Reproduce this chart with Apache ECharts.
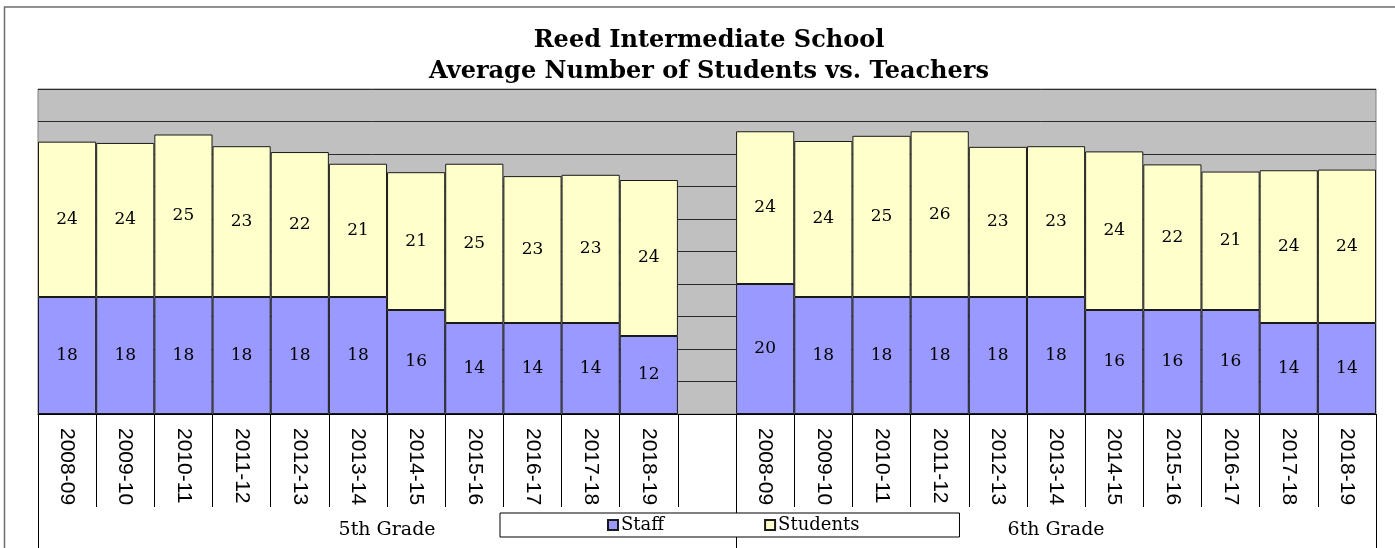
<!DOCTYPE html>
<html>
<head>
<meta charset="utf-8">
<script src="https://cdn.jsdelivr.net/npm/echarts@6/dist/echarts.min.js"></script>
<style>
  html, body { margin: 0; padding: 0; background: #fff; }
  #main { width: 1395px; height: 548px; }
</style>
</head>
<body>
<div id="main"></div>
<script>
// school years, same for both grades
const years = ['2008-09', '2009-10', '2010-11', '2011-12', '2012-13', '2013-14',
  '2014-15', '2015-16', '2016-17', '2017-18', '2018-19'];
const grades = ['5th Grade', '6th Grade'];

const staff5 = [18, 18, 18, 18, 18, 18, 16, 14, 14, 14, 12];
const students5 = [23.9, 23.7, 25.0, 23.2, 22.3, 20.5, 21.2, 24.5, 22.6, 22.8, 24.0];
const staff6 = [20, 18, 18, 18, 18, 18, 16, 16, 16, 14, 14];
const students6 = [23.5, 24.0, 24.8, 25.5, 23.1, 23.2, 24.4, 22.4, 21.3, 23.5, 23.6];

// one empty slot between the two grades
const categories = years.concat([''], years);
const staff = staff5.concat(['-'], staff6);
const students = students5.concat(['-'], students6);

const serif = 'DejaVu Serif';

let myChart = echarts.init(document.getElementById('main'));

const labelOpt = {
  show: true,
  position: 'inside',
  color: '#000',
  fontFamily: serif,
  fontSize: 17,
  formatter: p => Math.round(p.value)
};

// boundaries of every category slot, for the separator ticks
const slotEdges = [];
for (let i = 0; i <= categories.length; i++) slotEdges.push(i);

let options = {
  animation: false,
  backgroundColor: '#fff',
  title: {
    text: 'Reed Intermediate School\nAverage Number of Students vs. Teachers',
    left: 704,
    top: 20,
    textAlign: 'center',
    textStyle: {
      fontFamily: serif,
      fontWeight: 'bold',
      fontSize: 24,
      lineHeight: 31,
      color: '#000'
    }
  },
  legend: {
    data: ['Staff', 'Students'],
    icon: 'rect',
    left: 500,
    top: 513,
    padding: [3, 100, 3, 107],
    itemGap: 100,
    itemWidth: 10,
    itemHeight: 10,
    backgroundColor: '#fff',
    borderColor: '#000',
    borderWidth: 1,
    textStyle: { fontFamily: serif, fontSize: 18, color: '#000', padding: [0, 0, 0, -2] }
  },
  graphic: [{
    type: 'rect',
    silent: true,
    shape: { x: 4.5, y: 7, width: 1450, height: 600 },
    style: { fill: 'none', stroke: '#6e6e6e', lineWidth: 1.5 }
  }],
  grid: {
    left: 38,
    top: 89,
    width: 1338,
    height: 325,
    show: true,
    backgroundColor: '#c0c0c0',
    borderColor: '#808080',
    borderWidth: 1
  },
  xAxis: [{
    type: 'category',
    data: categories,
    position: 'bottom',
    axisLine: { lineStyle: { color: '#000', width: 1 } },
    axisTick: { show: false },
    axisLabel: {
      interval: 0,
      rotate: -90,
      margin: 14,
      fontFamily: 'Liberation Sans',
      fontSize: 21,
      color: '#000'
    }
  }, {
    // separators between the years
    type: 'value',
    min: 0,
    max: categories.length,
    position: 'bottom',
    offset: 0,
    splitLine: { show: false },
    axisLine: { show: false },
    axisTick: {
      show: true,
      length: 93,
      customValues: slotEdges,
      lineStyle: { color: '#000' }
    },
    axisLabel: { show: false }
  }, {
    // grade labels and their separators
    type: 'value',
    min: 0,
    max: categories.length,
    position: 'bottom',
    offset: 93,
    splitLine: { show: false },
    axisLine: { show: false },
    axisTick: {
      show: true,
      length: 41,
      customValues: [0, years.length + 1, categories.length],
      lineStyle: { color: '#000' }
    },
    axisLabel: {
      customValues: [(years.length + 1) / 2, years.length + 1 + years.length / 2],
      formatter: v => (v < years.length + 1 ? grades[0] : grades[1]),
      margin: 14,
      fontFamily: serif,
      fontSize: 19,
      color: '#000'
    }
  }],
  yAxis: {
    type: 'value',
    min: 0,
    max: 50,
    interval: 5,
    axisLabel: { show: false },
    axisLine: { show: false },
    axisTick: { show: false },
    splitLine: { lineStyle: { color: '#2b2b2b', width: 1 } }
  },
  series: [{
    name: 'Staff',
    type: 'bar',
    stack: 'all',
    data: staff,
    barCategoryGap: '0%',
    itemStyle: { color: '#9999ff', borderColor: '#1a1a1a', borderWidth: 1 },
    label: labelOpt
  }, {
    name: 'Students',
    type: 'bar',
    stack: 'all',
    data: students,
    barCategoryGap: '0%',
    itemStyle: { color: '#ffffcc', borderColor: '#1a1a1a', borderWidth: 1 },
    label: labelOpt
  }]
};

myChart.setOption(options);
</script>
</body>
</html>
